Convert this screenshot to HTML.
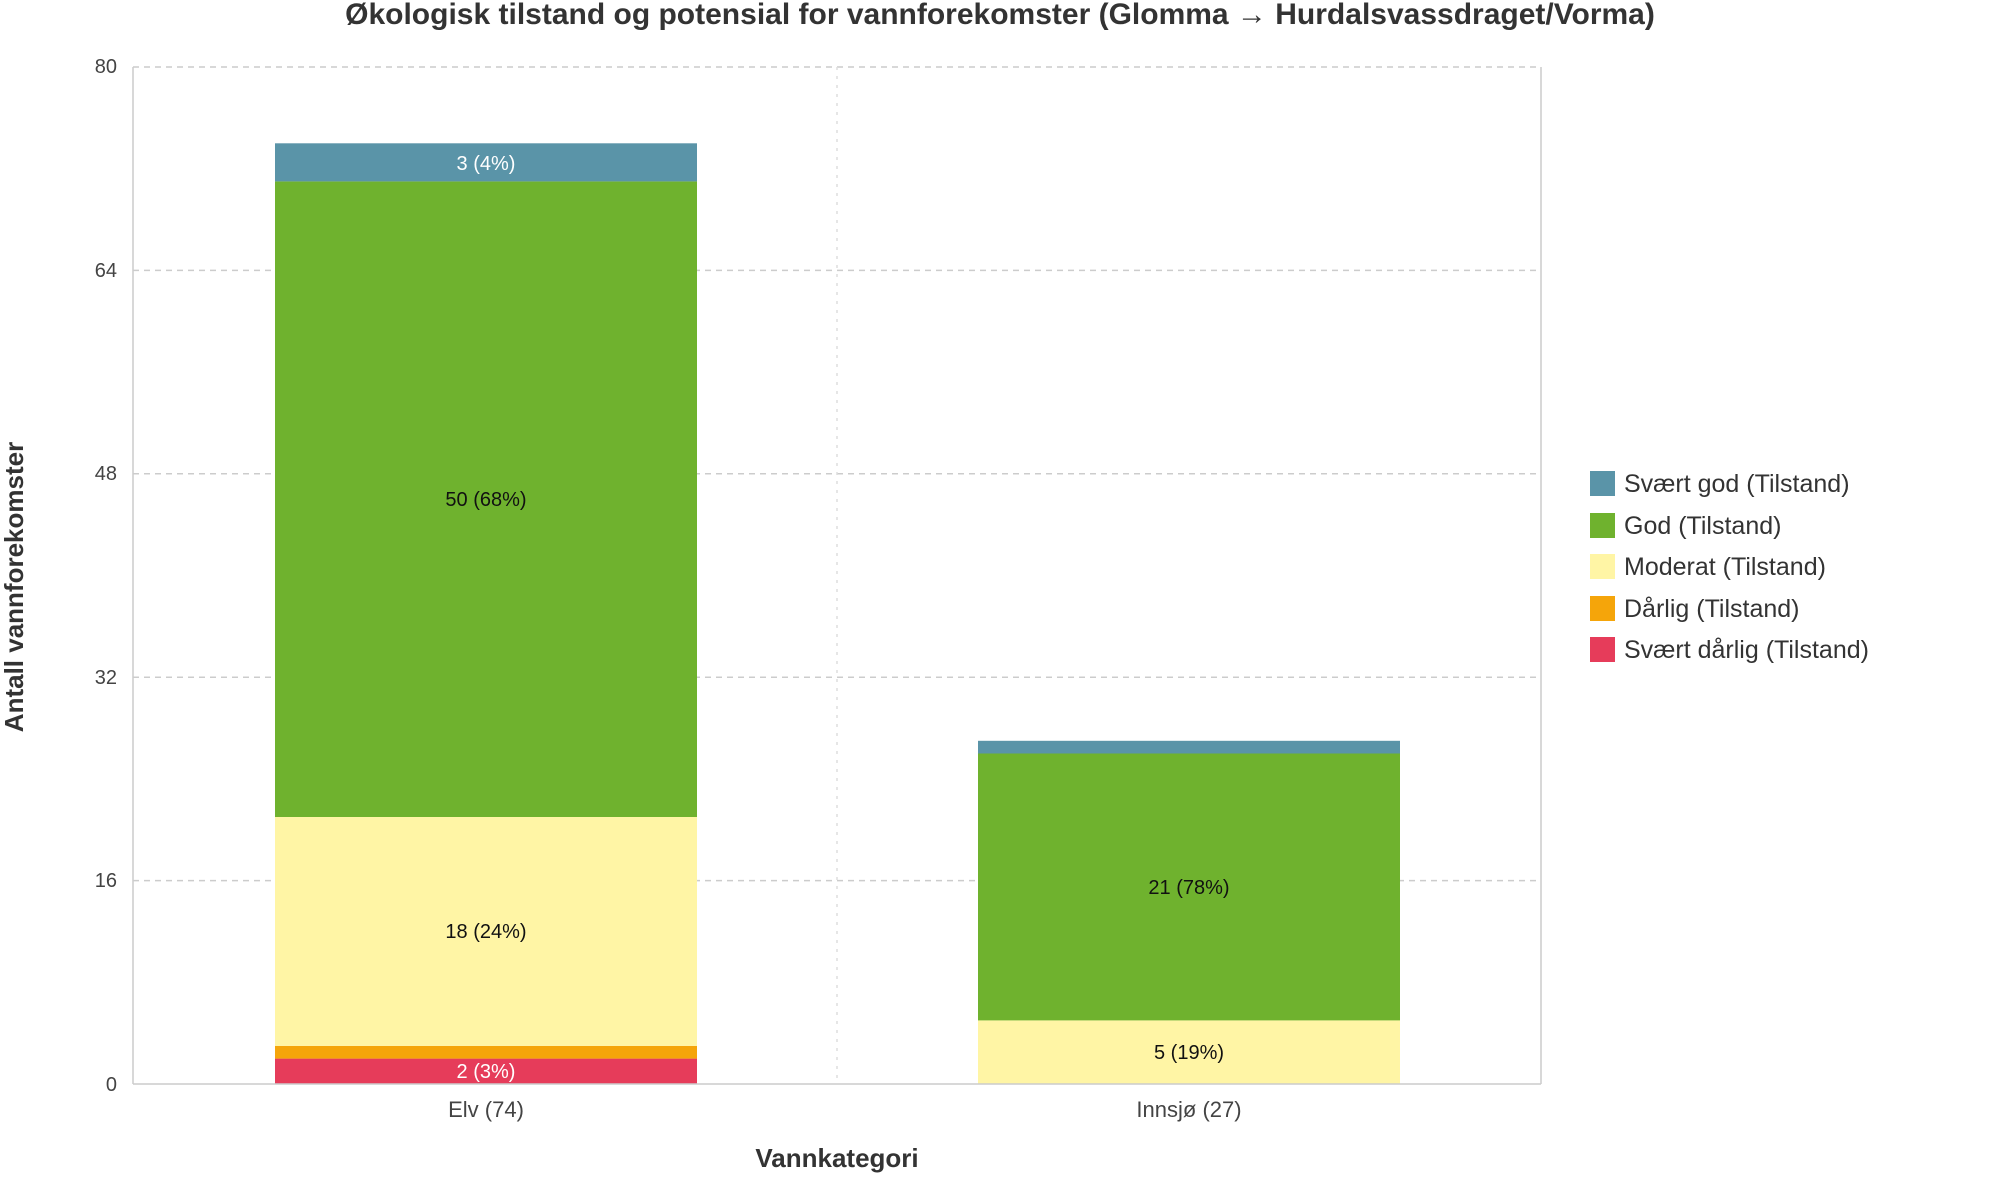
<!DOCTYPE html>
<html><head><meta charset="utf-8"><style>
html,body{margin:0;padding:0;background:#fff;}
svg{display:block;font-family:"Liberation Sans",Arial,sans-serif;}
</style></head><body>
<svg width="2000" height="1200" viewBox="0 0 2000 1200" xmlns="http://www.w3.org/2000/svg">
<rect width="2000" height="1200" fill="#fff"/>
<text x="1000" y="24" text-anchor="middle" font-size="30" font-weight="bold" fill="#333">Økologisk tilstand og potensial for vannforekomster (Glomma → Hurdalsvassdraget/Vorma)</text>
<g stroke="#ccc" stroke-width="1.5" stroke-dasharray="6,5">
<line x1="133" y1="67" x2="1541" y2="67"/>
<line x1="133" y1="270.4" x2="1541" y2="270.4"/>
<line x1="133" y1="473.8" x2="1541" y2="473.8"/>
<line x1="133" y1="677.2" x2="1541" y2="677.2"/>
<line x1="133" y1="880.6" x2="1541" y2="880.6"/>
</g>
<line x1="837" y1="67" x2="837" y2="1084" stroke="#ddd" stroke-width="1.5" stroke-dasharray="3,6"/>
<line x1="1541" y1="67" x2="1541" y2="1084" stroke="#ccc" stroke-width="1.5"/>
<line x1="133" y1="67" x2="133" y2="1084" stroke="#ccc" stroke-width="1.5"/>
<!-- Elv -->
<rect x="275" y="1058.6" width="422" height="25.4" fill="#e63c5a"/>
<rect x="275" y="1045.9" width="422" height="12.7" fill="#f5a50a"/>
<rect x="275" y="817" width="422" height="228.9" fill="#fff5a5"/>
<rect x="275" y="181.4" width="422" height="635.6" fill="#6fb22e"/>
<rect x="275" y="143.3" width="422" height="38.1" fill="#5a94a8"/>
<!-- Innsjø -->
<rect x="978" y="1020.4" width="422" height="63.6" fill="#fff5a5"/>
<rect x="978" y="753.5" width="422" height="266.9" fill="#6fb22e"/>
<rect x="978" y="740.8" width="422" height="12.7" fill="#5a94a8"/>
<line x1="133" y1="1084" x2="1541" y2="1084" stroke="#ccc" stroke-width="1.5"/>
<g font-size="20" text-anchor="middle">
<text x="486" y="170" fill="#fff">3 (4%)</text>
<text x="486" y="506" fill="#111">50 (68%)</text>
<text x="486" y="938" fill="#111">18 (24%)</text>
<text x="486" y="1078" fill="#fff">2 (3%)</text>
<text x="1189" y="894" fill="#111">21 (78%)</text>
<text x="1189" y="1059" fill="#111">5 (19%)</text>
</g>
<g font-size="20" text-anchor="end" fill="#444">
<text x="117" y="73">80</text>
<text x="117" y="277">64</text>
<text x="117" y="480">48</text>
<text x="117" y="684">32</text>
<text x="117" y="887">16</text>
<text x="117" y="1091">0</text>
</g>
<g font-size="22" text-anchor="middle" fill="#444">
<text x="486" y="1117">Elv (74)</text>
<text x="1189" y="1117">Innsjø (27)</text>
</g>
<text x="837" y="1167" text-anchor="middle" font-size="26" font-weight="bold" fill="#333">Vannkategori</text>
<text transform="translate(23,587) rotate(-90)" text-anchor="middle" font-size="26" font-weight="bold" fill="#333">Antall vannforekomster</text>
<g font-size="25" fill="#333">
<rect x="1590" y="471" width="25" height="25" fill="#5a94a8"/><text x="1624" y="492">Svært god (Tilstand)</text>
<rect x="1590" y="513" width="25" height="25" fill="#6fb22e"/><text x="1624" y="534">God (Tilstand)</text>
<rect x="1590" y="554" width="25" height="25" fill="#fff5a5"/><text x="1624" y="575">Moderat (Tilstand)</text>
<rect x="1590" y="596" width="25" height="25" fill="#f5a50a"/><text x="1624" y="617">Dårlig (Tilstand)</text>
<rect x="1590" y="637" width="25" height="25" fill="#e63c5a"/><text x="1624" y="658">Svært dårlig (Tilstand)</text>
</g>
</svg>
</body></html>
